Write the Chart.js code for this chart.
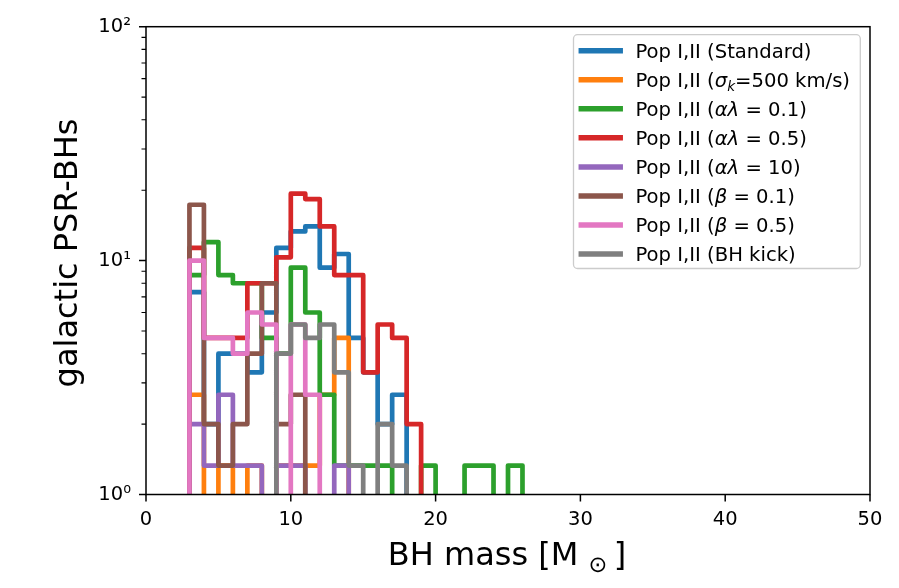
<!DOCTYPE html>
<html>
<head>
<meta charset="utf-8">
<script src="https://cdn.jsdelivr.net/npm/chart.js@4.4.1/dist/chart.umd.min.js"></script>
<style>
  html, body { margin: 0; padding: 0; background: #fff; }
  #wrap { width: 899px; height: 588px; position: relative; }
</style>
</head>
<body>
<div id="wrap"><canvas id="chart"></canvas></div>
<script>
// bin edges (solar masses), every series starts at the first edge
const binEdges = [3, 4, 5, 6, 7, 8, 9, 10, 11, 12, 13, 14, 15, 16, 17, 18, 19, 20, 21, 22, 23, 24, 25, 26];

// counts per bin (0 = empty bin)
const standard = [7.33, 2.0, 4.0, 4.0, 3.33, 6.0, 11.33, 13.33, 14.0, 9.33, 10.67, 4.67, 3.33, 2.0, 2.67];
const kick500  = [2.67, 0, 1.33, 0, 1.33, 0, 1.33, 1.33, 1.33, 2.67, 4.67];
const alpha01  = [8.67, 12.0, 8.67, 8.0, 8.0, 4.67, 4.0, 9.33, 6.0, 2.67, 1.33, 1.33, 1.33, 1.33, 0, 0, 1.33, 0, 0, 1.33, 1.33, 0, 1.33];
const alpha05  = [11.33, 4.67, 4.67, 4.67, 8.0, 8.0, 10.33, 19.33, 18.33, 14.0, 8.67, 8.67, 3.33, 5.33, 4.67, 2.0];
const alpha10  = [2.0, 1.33, 2.67, 1.33, 1.33, 0, 1.33, 1.33, 0, 0, 1.33];
const beta01   = [17.33, 2.0, 1.33, 2.0, 4.0, 8.0, 2.0, 2.67];
const beta05   = [10.0, 4.67, 4.67, 4.0, 6.0, 5.33, 0, 5.33, 2.67];
const bhKick   = [0, 0, 0, 0, 0, 0, 4.0, 5.33, 4.67, 5.33, 3.33, 1.33, 0, 2.0, 1.33];

const seriesLabels = [
  'Pop I,II (Standard)',
  'Pop I,II (σ_k=500 km/s)',
  'Pop I,II (αλ = 0.1)',
  'Pop I,II (αλ = 0.5)',
  'Pop I,II (αλ = 10)',
  'Pop I,II (β = 0.1)',
  'Pop I,II (β = 0.5)',
  'Pop I,II (BH kick)'
];

const xTicks = [0, 10, 20, 30, 40, 50];
const yTickValues = [1, 10, 100];
const yTickLabels = ['10⁰', '10¹', '10²'];
const xLabel = 'BH mass [M _⊙\u2009]';
const yLabel = 'galactic PSR-BHs';

const allSeries = [standard, kick500, alpha01, alpha05, alpha10, beta01, beta05, bhKick];
const colors = ['#1f77b4', '#ff7f0e', '#2ca02c', '#d62728', '#9467bd', '#8c564b', '#e377c2', '#7f7f7f'];

const FONT = '"DejaVu Sans"';
const FLOOR = 0.5; // below the axis minimum, so empty bins drop off the plot

function stepPoints(values) {
  const pts = [{ x: binEdges[0], y: FLOOR }];
  values.forEach((v, i) => pts.push({ x: binEdges[i], y: v > 0 ? v : FLOOR }));
  pts.push({ x: binEdges[values.length], y: FLOOR });
  return pts;
}

// text with italic greek letters and "_x" subscripts, like mathtext
function drawRich(ctx, text, x, y, size, align) {
  const runs = [];
  for (let i = 0; i < text.length; i++) {
    let ch = text[i];
    let sub = false;
    if (ch === '_' && i + 1 < text.length) { ch = text[++i]; sub = true; }
    const italic = /[\u03b1-\u03c9]/.test(ch) || (sub && /[a-z]/.test(ch));
    const last = runs[runs.length - 1];
    if (last && last.sub === sub && last.italic === italic) last.t += ch;
    else runs.push({ t: ch, sub, italic });
  }
  let w = 0;
  runs.forEach(r => {
    r.font = (r.italic ? 'italic ' : '') + (r.sub ? size * 0.7 : size) + 'px ' + FONT;
    ctx.font = r.font;
    r.w = ctx.measureText(r.t).width;
    w += r.w;
  });
  let cx = align === 'center' ? x - w / 2 : x;
  ctx.textAlign = 'left';
  ctx.textBaseline = 'alphabetic';
  runs.forEach(r => {
    ctx.font = r.font;
    ctx.fillText(r.t, cx, y + (r.sub ? size * 0.22 : 0));
    cx += r.w;
  });
}

const frame = {
  id: 'frame',
  afterDatasetsDraw(chart) {
    const { ctx, chartArea: a, scales: { x, y } } = chart;
    ctx.save();
    ctx.strokeStyle = '#000';
    ctx.lineWidth = 1.5;
    ctx.strokeRect(a.left, a.top, a.right - a.left, a.bottom - a.top);

    ctx.beginPath();
    xTicks.forEach(v => {
      const px = x.getPixelForValue(v);
      ctx.moveTo(px, a.bottom);
      ctx.lineTo(px, a.bottom + 7);
    });
    yTickValues.forEach(v => {
      const py = y.getPixelForValue(v);
      ctx.moveTo(a.left - 7, py);
      ctx.lineTo(a.left, py);
    });
    ctx.stroke();

    ctx.lineWidth = 1.1;
    ctx.beginPath();
    [1, 10].forEach(d => {
      for (let k = 2; k <= 9; k++) {
        const py = y.getPixelForValue(k * d);
        ctx.moveTo(a.left - 4.5, py);
        ctx.lineTo(a.left, py);
      }
    });
    ctx.stroke();
    ctx.restore();
  },
  afterDraw(chart) {
    const { ctx } = chart;
    ctx.save();
    ctx.fillStyle = '#000';

    // axis titles
    drawRich(ctx, xLabel, 507, 565, 32, 'center');
    ctx.translate(77, 253);
    ctx.rotate(-Math.PI / 2);
    ctx.font = '32px ' + FONT;
    ctx.textAlign = 'center';
    ctx.textBaseline = 'alphabetic';
    ctx.fillText(yLabel, 0, 0);
    ctx.setTransform(1, 0, 0, 1, 0, 0);
    ctx.restore();

    // legend
    ctx.save();
    const L = 573.5, T = 34.7, R = 860.3, B = 268.5, rad = 4;
    ctx.beginPath();
    ctx.roundRect(L, T, R - L, B - T, rad);
    ctx.fillStyle = 'rgba(255,255,255,0.8)';
    ctx.fill();
    ctx.strokeStyle = '#cccccc';
    ctx.lineWidth = 1.3;
    ctx.stroke();
    seriesLabels.forEach((label, i) => {
      const yc = 50.7 + i * 29.05;
      ctx.beginPath();
      ctx.strokeStyle = colors[i];
      ctx.lineWidth = 5.5;
      ctx.lineCap = 'square';
      ctx.moveTo(581.3, yc);
      ctx.lineTo(620.2, yc);
      ctx.stroke();
      ctx.fillStyle = '#000';
      drawRich(ctx, label, 635.5, yc + 7.1, 19.6, 'left');
    });
    ctx.restore();
  }
};

const datasets = allSeries.map((vals, i) => ({
  label: seriesLabels[i],
  data: stepPoints(vals),
  borderColor: colors[i],
  backgroundColor: colors[i],
  borderWidth: 4.7,
  borderJoinStyle: 'round',
  pointRadius: 0,
  stepped: true,
  fill: false,
  clip: 0,
  order: allSeries.length - i
}));

new Chart(document.getElementById('chart'), {
  type: 'line',
  data: { datasets },
  options: {
    animation: false,
    responsive: true,
    maintainAspectRatio: false,
    layout: { padding: { left: 0, top: 25, right: 29, bottom: 0 } },
    plugins: { legend: { display: false }, tooltip: { enabled: false } },
    scales: {
      x: {
        type: 'linear',
        min: 0,
        max: 50,
        afterBuildTicks: s => { s.ticks = xTicks.map(v => ({ value: v })); },
        afterFit: s => { s.height = 93.5; },
        grid: { display: false, drawTicks: false },
        border: { display: false },
        ticks: {
          font: { family: FONT, size: 19.5 },
          color: '#000',
          padding: 13.5,
          maxRotation: 0,
          autoSkip: false
        }
      },
      y: {
        type: 'logarithmic',
        min: 1,
        max: 100,
        afterBuildTicks: s => { s.ticks = yTickValues.map(v => ({ value: v })); },
        afterFit: s => { s.width = 146; },
        grid: { display: false, drawTicks: false },
        border: { display: false },
        ticks: {
          font: { family: FONT, size: 19.5 },
          color: '#000',
          padding: 15,
          autoSkip: false,
          callback: v => yTickLabels[yTickValues.indexOf(v)]
        }
      }
    }
  },
  plugins: [frame]
});
</script>
</body>
</html>
